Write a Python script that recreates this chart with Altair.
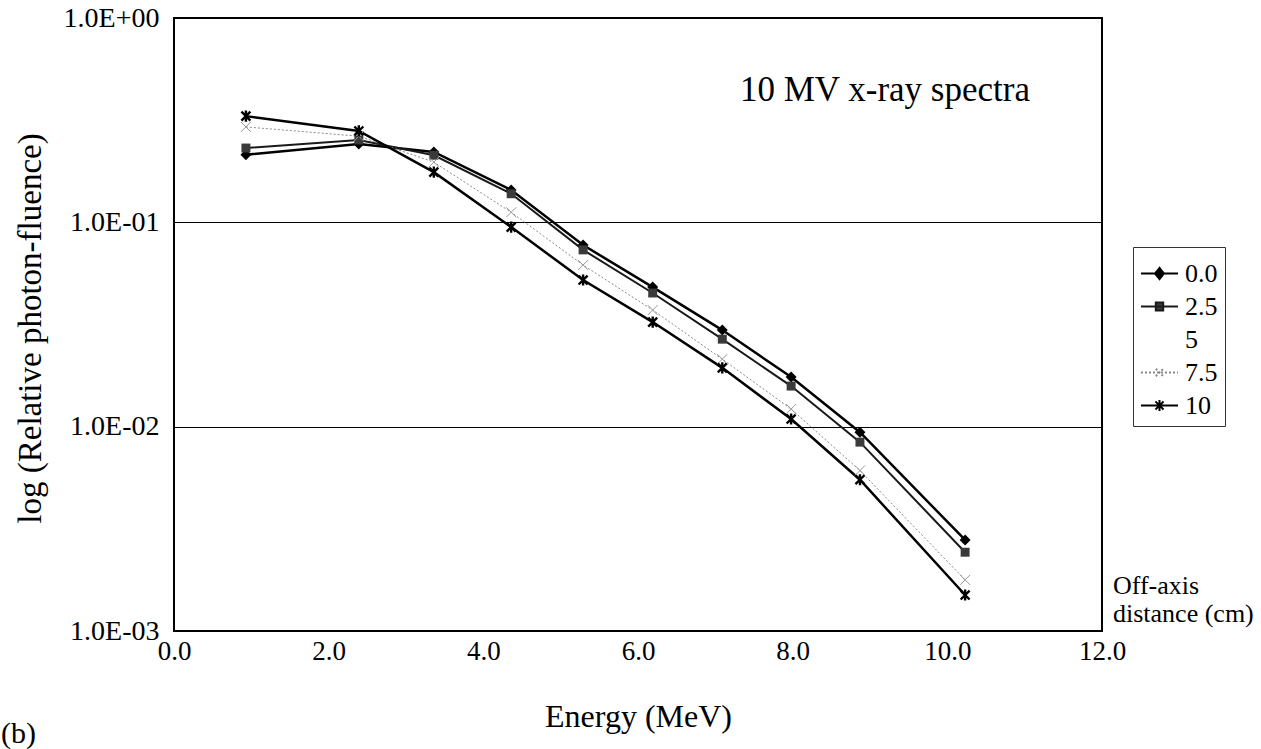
import altair as alt
import pandas as pd

# ---- data ----
energy = [0.93, 2.39, 3.36, 4.36, 5.29, 6.19, 7.09, 7.98, 8.87, 10.23]
fluence_0_0 = [0.214, 0.242, 0.221, 0.144, 0.0774, 0.0482, 0.0297, 0.0175, 0.0094, 0.00279]
fluence_2_5 = [0.231, 0.253, 0.213, 0.138, 0.0733, 0.0451, 0.0268, 0.0158, 0.0084, 0.00243]
fluence_7_5 = [0.293, 0.264, 0.197, 0.112, 0.0618, 0.0372, 0.0214, 0.0122, 0.0061, 0.00178]
fluence_10 = [0.331, 0.280, 0.176, 0.0948, 0.0522, 0.0325, 0.0194, 0.0109, 0.0055, 0.00150]

series_names = ["0.0", "2.5", "5", "7.5", "10"]
x_ticks = [0, 2, 4, 6, 8, 10, 12]
y_ticks = [1.0, 0.1, 0.01, 0.001]
y_tick_labels = ["1.0E+00", "1.0E-01", "1.0E-02", "1.0E-03"]

FONT = "Liberation Serif"
W, H = 928, 613
PAD_L, PAD_T = 174, 18

series_values = {"0.0": fluence_0_0, "2.5": fluence_2_5, "7.5": fluence_7_5, "10": fluence_10}

# styles (kept out of the data)
line_style = {
    "0.0": dict(color="black", strokeWidth=2.5),
    "2.5": dict(color="#1a1a1a", strokeWidth=2.0),
    "7.5": dict(color="#8a8a8a", strokeWidth=1.0, strokeDash=[2, 2]),
    "10": dict(color="black", strokeWidth=2.5),
}
P_X = "M-1,-1L1,1M-1,1L1,-1"
P_AST = "M-1,-1L1,1M-1,1L1,-1M0,-1.25L0,1.25"
point_style = {
    "0.0": dict(shape="diamond", filled=True, color="black", size=120),
    "2.5": dict(shape="square", filled=True, color="#3a3a3a", size=80),
    "7.5": dict(shape=P_X, filled=False, color="#999999", size=100, strokeWidth=1),
    "10": dict(shape=P_AST, filled=False, color="black", size=80, strokeWidth=2.4),
}

y_label_expr = " : ".join(
    f"datum.value > {v * 0.5} ? '{lab}'" for v, lab in zip(y_ticks, y_tick_labels)
) + " : ''"

x_scale = alt.Scale(domain=[0, 12], nice=False, zero=False)
y_scale = alt.Scale(type="log", domain=[0.001, 1], nice=False)

x_axis = alt.Axis(values=x_ticks, format=".1f", grid=False, ticks=False, domain=False,
                  labelFlush=False, labelOverlap=False,
                  labelFont=FONT, labelFontSize=27, labelColor="black", labelPadding=7,
                  title="Energy (MeV)", titleFont=FONT, titleFontSize=32, titleFontWeight="normal",
                  titleColor="black", titleY=85, titleBaseline="middle")
y_axis = alt.Axis(values=y_ticks, labelExpr=y_label_expr, grid=True, gridColor="black",
                  gridWidth=1, gridOpacity=1, ticks=False, domain=False,
                  labelFlush=False, labelOverlap=False,
                  labelFont=FONT, labelFontSize=28, labelColor="black", labelPadding=15,
                  title="log (Relative photon-fluence)", titleFont=FONT, titleFontSize=33,
                  titleFontWeight="normal", titleColor="black", titleX=-144, titleY=310,
                  titleAngle=270, titleAlign="center", titleBaseline="middle")

X = alt.X("energy:Q", scale=x_scale, axis=x_axis)
Y = alt.Y("fluence:Q", scale=y_scale, axis=y_axis)

layers = []
for name in ["0.0", "2.5", "7.5", "10"]:
    df = pd.DataFrame({"energy": energy, "fluence": series_values[name], "series": name})
    layers.append(alt.Chart(df).mark_line(**line_style[name]).encode(x=X, y=Y))
for name in ["0.0", "2.5", "7.5", "10"]:
    df = pd.DataFrame({"energy": energy, "fluence": series_values[name], "series": name})
    layers.append(alt.Chart(df).mark_point(opacity=1, **point_style[name]).encode(x=X, y=Y))

# legend-only layer (symbols combine a short line with the marker)
LINE = "M-1,0L1,0"
legend_paths = [
    LINE + "M0,-0.3L0.24,0L0,0.3L-0.24,0Z",
    LINE + "M-0.2,-0.22L0.2,-0.22L0.2,0.22L-0.2,0.22Z",
    LINE,
    LINE + "M-0.2,-0.2L0.2,0.2M-0.2,0.2L0.2,-0.2",
    LINE + "M-0.22,-0.22L0.22,0.22M-0.22,0.22L0.22,-0.22M0,-0.3L0,0.3",
]
leg_df = pd.DataFrame({"series": series_names, "energy": 0.5, "fluence": 0.5})
legend_layer = alt.Chart(leg_df).transform_filter("datum.energy > 100").mark_point(opacity=1).encode(
    x=X, y=Y,
    shape=alt.Shape("series:N", scale=alt.Scale(domain=series_names, range=legend_paths),
                    sort=series_names, title=None),
    stroke=alt.Stroke("series:N", scale=alt.Scale(domain=series_names,
                      range=["black", "#1a1a1a", "transparent", "#8a8a8a", "black"]),
                      sort=series_names, title=None),
    fill=alt.Fill("series:N", scale=alt.Scale(domain=series_names,
                  range=["black", "#3a3a3a", "transparent", "transparent", "transparent"]),
                  sort=series_names, title=None),
    strokeDash=alt.StrokeDash("series:N", scale=alt.Scale(domain=series_names,
                              range=[[1, 0], [1, 0], [1, 0], [2, 2], [1, 0]]),
                              sort=series_names, title=None),
)
layers.append(legend_layer)

# annotations
title_df = pd.DataFrame({"t": ["10 MV x-ray spectra"]})
title_layer = alt.Chart(title_df).mark_text(font=FONT, fontSize=35, align="left",
                                            baseline="middle", color="black").encode(
    x=alt.value(566), y=alt.value(72), text="t:N")
off_df = pd.DataFrame({"t": ["Off-axis|distance (cm)"]})
off_layer = alt.Chart(off_df).mark_text(font=FONT, fontSize=26, align="left",
                                        baseline="middle", color="black",
                                        lineBreak="|", lineHeight=28).encode(
    x=alt.value(939), y=alt.value(568), text="t:N")
b_df = pd.DataFrame({"t": ["(b)"]})
b_layer = alt.Chart(b_df).mark_text(font=FONT, fontSize=30, align="left",
                                    baseline="middle", color="black").encode(
    x=alt.value(-173), y=alt.value(716), text="t:N")
layers += [title_layer, off_layer, b_layer]

chart = alt.layer(*layers).properties(
    width=W, height=H,
    autosize=alt.AutoSizeParams(type="none"),
    padding={"left": PAD_L, "top": PAD_T, "right": 1261 - PAD_L - W, "bottom": 749 - PAD_T - H},
    background="white",
).configure_view(
    stroke="black", strokeWidth=2
).configure_legend(
    orient="none", legendX=959, legendY=229, direction="vertical",
    strokeColor="#333333", fillColor="white", padding=7, cornerRadius=0,
    labelFont=FONT, labelFontSize=26, labelColor="black", labelOffset=6,
    symbolSize=1369, symbolStrokeWidth=2, rowPadding=0, titleFontSize=0,
)

chart.save("out.html", embed_options={"renderer": "svg", "actions": False})
